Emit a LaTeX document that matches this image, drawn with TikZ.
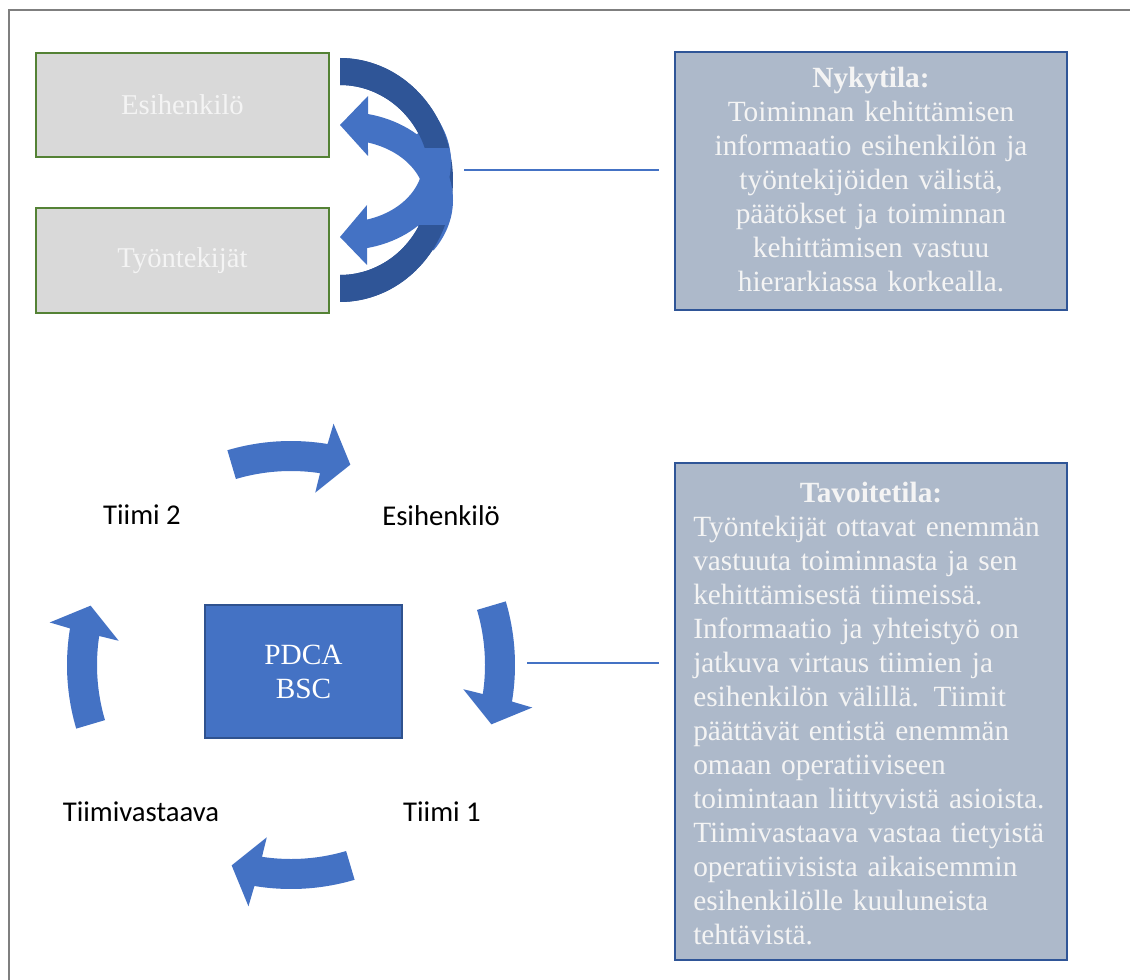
\documentclass[tikz,border=0pt]{standalone}
\usepackage{fontspec}
\setmainfont{Liberation Serif}
\newfontfamily\calib{Carlito}
\definecolor{ltblue}{HTML}{4472C4}
\definecolor{dkblue}{HTML}{2F5597}
\definecolor{steel}{HTML}{ADB9CA}
\definecolor{boxgray}{HTML}{D9D9D9}
\definecolor{boxgreen}{HTML}{548235}
\definecolor{framegray}{HTML}{7F7F7F}
\definecolor{pdcaborder}{HTML}{2F528F}
\definecolor{offwhite}{HTML}{F4F4F4}
\newcommand\darkring{%
  \fill[dkblue] plot[domain=90:-90, samples=70] ({340+113*cos(\x)},{180-122*sin(\x)})
    -- plot[domain=-90:90, samples=70] ({340+90*cos(\x)},{180-95*sin(\x)}) -- cycle;}
\newcommand\cycarrow[1]{%
  \pgfmathsetmacro\qa{#1+16.5}%
  \pgfmathsetmacro\qb{#1-9.4}%
  \pgfmathsetmacro\qc{#1-8.6}%
  \pgfmathsetmacro\qd{#1-10}%
  \pgfmathsetmacro\qe{#1-8}%
  \pgfmathsetmacro\qf{#1-16.5}%
  \fill[ltblue] plot[domain=\qa:\qb, samples=30] ({291+224*cos(\x)},{665-224*sin(\x)})
    -- ({291+245*cos(\qd)},{665-245*sin(\qd)})
    -- ({291+209*cos(\qf)},{665-209*sin(\qf)})
    -- ({291+174*cos(\qe)},{665-174*sin(\qe)})
    -- plot[domain=\qc:\qa, samples=30] ({291+194*cos(\x)},{665-194*sin(\x)}) -- cycle;}
\begin{document}
\begin{tikzpicture}[x=0.75pt,y=-0.75pt,
  graybox/.style={draw=boxgreen, line width=1.5pt, fill=boxgray, minimum width=219.75pt,
    minimum height=78pt, inner sep=0pt, text=offwhite, font=\fontsize{21.5}{25}\selectfont},
  infobox/.style={draw=dkblue, line width=2pt, fill=steel, inner sep=0pt},
  infotext/.style={text=offwhite, font=\fontsize{22}{25.5}\selectfont, inner sep=0pt},
  pdcabox/.style={draw=pdcaborder, line width=1.2pt, fill=ltblue, minimum width=147.75pt,
    minimum height=99.75pt, inner sep=0pt, text=white, align=center,
    font=\fontsize{22}{25.5}\selectfont},
  lbl/.style={inner sep=0pt, font=\calib\fontsize{21.5}{25}\selectfont},
  link/.style={draw=ltblue, line width=0.9pt}]
\useasboundingbox (0,0) rectangle (1130,980);
% frame
\draw[framegray, line width=1.6pt] (9,980) -- (9,10) -- (1130,10);

% top left boxes
\node[graybox] (esi) at (182.5,105) {Esihenkilö};
\node[graybox] (tyo) at (182.5,260.5) {Työntekijät};

% curved ribbon arrows
\darkring
\fill[ltblue] (340,237) -- (367,265) -- (367,248)
  -- plot[domain=78.2:-35, samples=40] ({345+106*cos(\x)},{162+88*sin(\x)})
  -- plot[domain=-25:73.8, samples=40] ({345+78*cos(\x)},{162+60*sin(\x)})
  -- (367,205) -- cycle;
\fill[ltblue] (340,125) -- (368,96) -- (368,114)
  -- plot[domain=77.7:-35, samples=40] ({345+108*cos(\x)},{200-88*sin(\x)})
  -- plot[domain=-25:73.3, samples=40] ({345+80*cos(\x)},{200-60*sin(\x)})
  -- (368,156) -- cycle;
\begin{scope}
  \clip (300,40) rectangle (480,148);
  \darkring
\end{scope}
\begin{scope}
  \clip (300,226) rectangle (480,320);
  \darkring
\end{scope}

% Nykytila box
\node[infobox, minimum width=294pt, minimum height=193.5pt] (nyk) at (871,181) {};
\node[infotext, anchor=base, text width=277.5pt, align=center] (nyktxt) at (871,88)
  {\textbf{Nykytila:}\\Toiminnan kehittämisen\\informaatio esihenkilön ja\\työntekijöiden välistä,\\päätökset ja toiminnan\\kehittämisen vastuu\\hierarkiassa korkealla.};

% Tavoitetila box
\node[infobox, minimum width=294pt, minimum height=372.75pt] (tav) at (871,711.5) {};
\node[infotext, anchor=base] (tavtitle) at (871,502) {\textbf{Tavoitetila:}};
\node[infotext, anchor=base west, text width=277.5pt, align=left] (tavtxt) at (693,536)
  {Työntekijät ottavat enemmän\\vastuuta toiminnasta ja sen\\kehittämisestä tiimeissä.\\Informaatio ja yhteistyö on\\jatkuva virtaus tiimien ja\\esihenkilön välillä. Tiimit\\päättävät entistä enemmän\\omaan operatiiviseen\\toimintaan liittyvistä asioista.\\Tiimivastaava vastaa tietyistä\\operatiivisista aikaisemmin\\esihenkilölle kuuluneista\\tehtävistä.};

% connector lines
\coordinate (l1a) at (464,170);
\coordinate (l1b) at (659,170);
\coordinate (l2a) at (527,663);
\coordinate (l2b) at (659,663);
\draw[link] (l1a) -- (l1b);
\draw[link] (l2a) -- (l2b);

% PDCA cycle
\node[pdcabox] (pdca) at (303.5,671.5) {PDCA\\BSC};
\cycarrow{90}
\cycarrow{0}
\cycarrow{-90}
\cycarrow{180}
\node[lbl] (t2) at (142,515) {Tiimi 2};
\node[lbl] (esi2) at (441,516) {Esihenkilö};
\node[lbl] (tv) at (141,812) {Tiimivastaava};
\node[lbl] (t1) at (442,812) {Tiimi 1};
\end{tikzpicture}
\end{document}
